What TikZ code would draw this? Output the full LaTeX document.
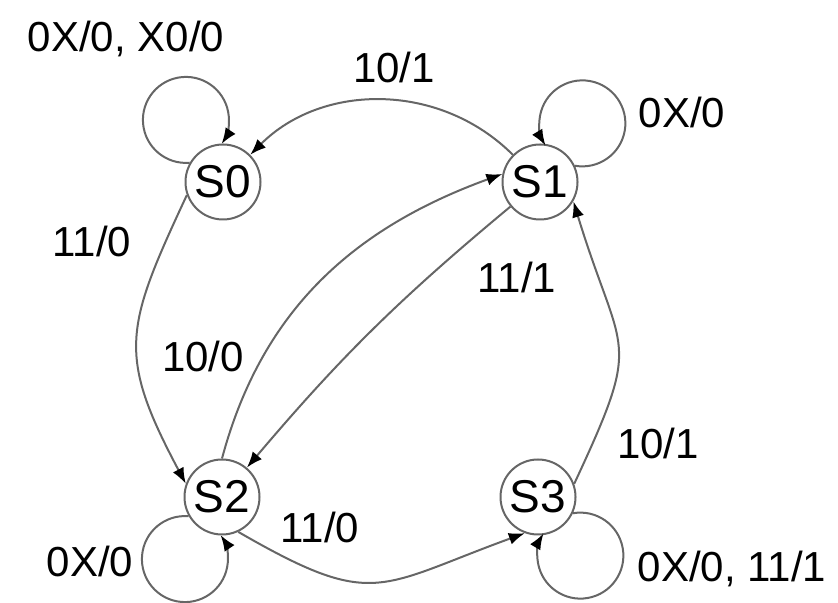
\documentclass[tikz,border=0pt]{standalone}
\usepackage{fontspec}
\setmainfont{Liberation Sans}
\usetikzlibrary{arrows.meta}

\begin{document}
\begin{tikzpicture}[x=0.5pt,y=0.5pt,
		state/.style={circle,draw=black!60,line width=1pt,minimum size=37.5pt,inner sep=0pt,font=\fontsize{23}{27}\selectfont},
		trans/.style={draw=black!60,line width=1pt,-{Latex[length=8pt,width=6pt,color=black]}},
		lbl/.style={font=\fontsize{21}{25}\selectfont,inner sep=0pt}]
			\useasboundingbox (0,0) rectangle (838,603);

			% Zustaende
			\node[state] (s0) at (223,421) {S0};
			\node[state] (s1) at (540,421) {S1};
			\node[state] (s2) at (222,106) {S2};
			\node[state] (s3) at (538,106) {S3};

			% Uebergaenge
			\draw[trans] (s1) to[out=135,in=45] (s0);
			\draw[trans] (s0.200) to[out=245,in=118,looseness=1.3] (s2.160);
			\draw[trans] (s2.90) to[out=75,in=200] (s1.168);
			\draw[trans] (s1) to[bend right=5] (s2);
			\draw[trans] (s2.295) to[out=-30,in=200,looseness=1.4] (s3.250);
			\draw[trans] (s3.20) to[out=65,in=-73,looseness=1.5] (s1.-30);

			% Schleifen
			\draw[trans] (s0.150) arc[start angle=-85, delta angle=-309, radius=21.5pt];
			\draw[trans] (s1.25) arc[start angle=-100, delta angle=311, radius=21.5pt];
			\draw[trans] (s2.210) arc[start angle=85, delta angle=309, radius=21.5pt];
			\draw[trans] (s3.-25) arc[start angle=100, delta angle=-311, radius=21.5pt];

			% Beschriftungen
			\node[lbl] (l00) at (126,564) {0X/0, X0/0};
			\node[lbl] (l01) at (394,535) {10/1};
			\node[lbl] (l11) at (682,490) {0X/0};
			\node[lbl] (l02) at (92,362) {11/0};
			\node[lbl] (l21) at (203,247) {10/0};
			\node[lbl] (l12) at (517,326) {11/1};
			\node[lbl] (l31) at (658,160) {10/1};
			\node[lbl] (l23) at (320,76) {11/0};
			\node[lbl] (l22) at (90,42) {0X/0};
			\node[lbl] (l33) at (732,34) {0X/0, 11/1};
		\end{tikzpicture}
\end{document}
